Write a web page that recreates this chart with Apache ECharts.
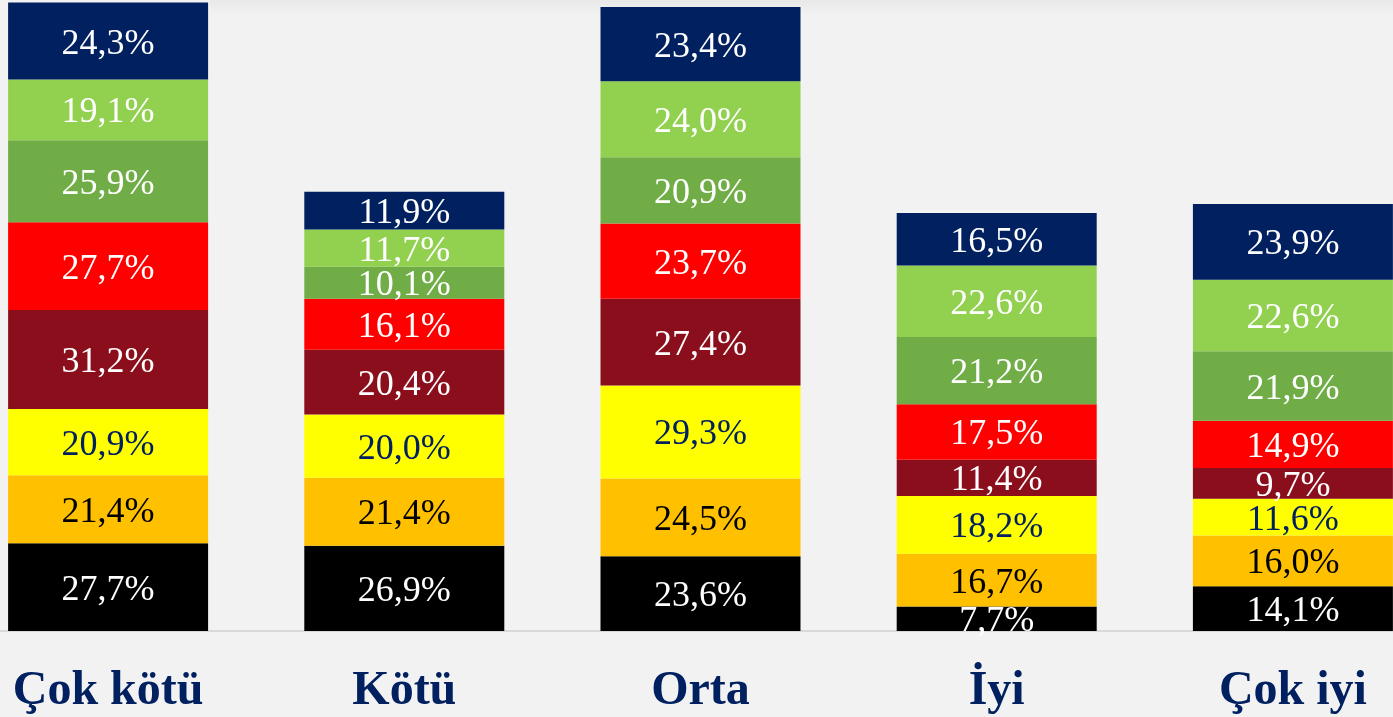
<!DOCTYPE html>
<html>
<head>
<meta charset="utf-8">
<title>Stacked bars</title>
<script src="https://cdn.jsdelivr.net/npm/echarts@6/dist/echarts.min.js"></script>
<style>
  html, body { margin: 0; padding: 0; background: #f2f2f2; overflow: hidden; }
  #chart { position: absolute; left: -40px; top: 0; width: 1481px; height: 717px; }
</style>
</head>
<body>
<div id="chart"></div>
<script>
const categories = ['Çok kötü', 'Kötü', 'Orta', 'İyi', 'Çok iyi']

// bottom to top
const blackVals = [27.7, 26.9, 23.6, 7.7, 14.1]
const orangeVals = [21.4, 21.4, 24.5, 16.7, 16.0]
const yellowVals = [20.9, 20.0, 29.3, 18.2, 11.6]
const darkRedVals = [31.2, 20.4, 27.4, 11.4, 9.7]
const redVals = [27.7, 16.1, 23.7, 17.5, 14.9]
const greenVals = [25.9, 10.1, 20.9, 21.2, 21.9]
const lightGreenVals = [19.1, 11.7, 24.0, 22.6, 22.6]
const navyVals = [24.3, 11.9, 23.4, 16.5, 23.9]

const serif = '"Liberation Serif", "DejaVu Serif", serif'

const fmt = p => p.value.toFixed(1).replace('.', ',') + '%'

function makeSeries (name, data, color, labelColor) {
  return {
    name,
    type: 'bar',
    stack: 'total',
    barWidth: 200,
    data,
    itemStyle: { color },
    label: {
      show: true,
      position: 'inside',
      offset: [0, 3],
      formatter: fmt,
      color: labelColor,
      fontFamily: serif,
      fontSize: 36
    },
    emphasis: { disabled: true },
    animation: false
  }
}

const chart = echarts.init(document.getElementById('chart'))
chart.setOption({
  backgroundColor: '#f2f2f2',
  graphic: {
    elements: [{
      type: 'rect',
      z: 0,
      shape: { x: 250, y: 0, width: 1231, height: 14 },
      style: {
        fill: new echarts.graphic.LinearGradient(0, 0, 0, 1, [
          { offset: 0, color: '#e8e8e8' },
          { offset: 1, color: '#f2f2f2' }
        ])
      }
    }]
  },
  grid: {
    left: 0,
    right: 0,
    top: 0,
    bottom: 86
  },
  xAxis: {
    type: 'category',
    data: categories,
    axisLine: { lineStyle: { color: '#d9d9d9', width: 2 } },
    axisTick: { show: false },
    axisLabel: {
      margin: 37,
      color: '#002060',
      fontFamily: serif,
      fontWeight: 'bold',
      fontSize: 48
    }
  },
  yAxis: {
    type: 'value',
    min: 0,
    max: 199,
    show: false,
    splitLine: { show: false }
  },
  series: [
    makeSeries('s1', blackVals, '#000000', '#ffffff'),
    makeSeries('s2', orangeVals, '#ffc000', '#000000'),
    makeSeries('s3', yellowVals, '#ffff00', '#002060'),
    makeSeries('s4', darkRedVals, '#8b0e1c', '#ffffff'),
    makeSeries('s5', redVals, '#ff0000', '#ffffff'),
    makeSeries('s6', greenVals, '#70ad47', '#ffffff'),
    makeSeries('s7', lightGreenVals, '#92d050', '#ffffff'),
    makeSeries('s8', navyVals, '#002060', '#ffffff')
  ]
})
</script>
</body>
</html>
